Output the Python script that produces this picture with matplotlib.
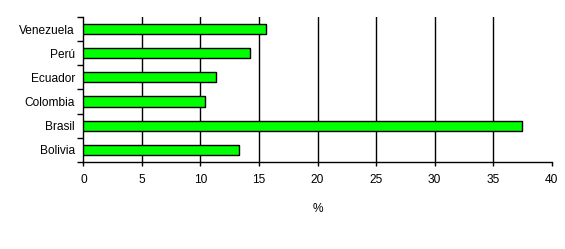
import numpy as np
import matplotlib
matplotlib.use('Agg')
import matplotlib.pyplot as plt
from matplotlib.ticker import FixedLocator

countries = ['Bolivia', 'Brasil', 'Colombia', 'Ecuador', 'Perú', 'Venezuela']
values = [13.3, 37.5, 10.4, 11.3, 14.25, 15.6]
xticks = [0, 5, 10, 15, 20, 25, 30, 35, 40]

plt.rcParams['font.family'] = ['Liberation Sans', 'DejaVu Sans']
plt.rcParams['font.size'] = 8.6

fig = plt.figure(figsize=(5.65, 2.49), dpi=100)
ax = fig.add_axes([0.1475, 0.35, 0.829, 0.582])

pos = np.arange(len(countries))
ax.barh(pos, values, height=0.42, color='#00ff00', edgecolor='black',
        linewidth=1, zorder=3)

ax.set_xlim(0, 40)
ax.set_ylim(-0.5, len(countries) - 0.5)
ax.set_xticks(xticks)
ax.set_yticks(pos)
ax.set_yticklabels(countries)
ax.yaxis.set_minor_locator(FixedLocator(np.arange(-0.5, len(countries), 1)))

ax.tick_params(axis='y', which='major', length=0, pad=6)
ax.tick_params(axis='y', which='minor', length=4, width=1, direction='out')
ax.tick_params(axis='x', length=3, width=1, direction='out', pad=6)

# vertical gridlines only between the axis ends
for x in xticks[1:-1]:
    ax.axvline(x, color='black', linewidth=1, zorder=0)
for s in ['top', 'right']:
    ax.spines[s].set_visible(False)
for s in ['left', 'bottom']:
    ax.spines[s].set_linewidth(1)

ax.set_xlabel('%', labelpad=12)

fig.savefig('out.png', dpi=100)
